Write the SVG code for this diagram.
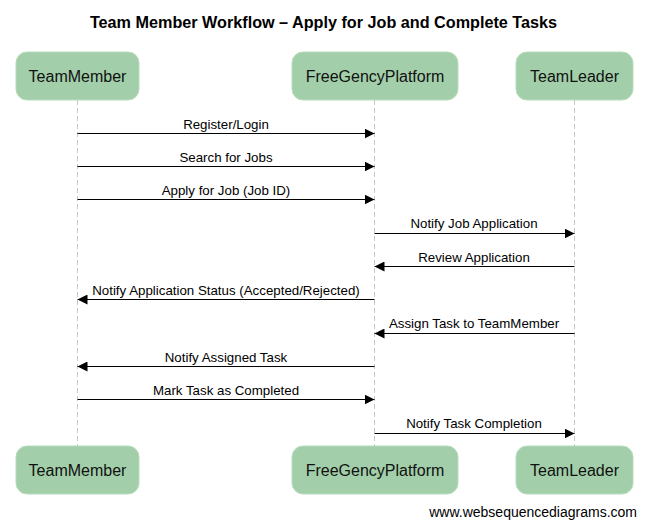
<svg xmlns="http://www.w3.org/2000/svg" width="647" height="527" viewBox="0 0 647 527">
<style>
.box{fill:#a2cfa9;stroke:#b8dcbd;stroke-width:1}
.bt{font-family:"Liberation Sans",Arial,sans-serif;font-size:16px;fill:#111;text-anchor:middle}
.life{stroke:#c8c8c8;stroke-width:1;stroke-dasharray:5,3}
.msg{stroke:#000;stroke-width:1;fill:none}
.ml{font-family:"Liberation Sans",Arial,sans-serif;font-size:13.3px;fill:#000;text-anchor:middle}
</style>
<defs>
<marker id="ah" viewBox="0 0 10 10" refX="10" refY="5" markerWidth="10" markerHeight="10" markerUnits="userSpaceOnUse" orient="auto">
<path d="M0,0 L10,5 L0,10 Z" fill="#000"/>
</marker>
</defs>
<rect width="647" height="527" fill="#fff"/>
<text x="323.5" y="28" font-family="'Liberation Sans',Arial,sans-serif" font-size="16.2" font-weight="bold" text-anchor="middle" fill="#000">Team Member Workflow – Apply for Job and Complete Tasks</text>
<g id="lifelines">
<line class="life" x1="77.5" y1="100" x2="77.5" y2="446"/>
<line class="life" x1="374.5" y1="100" x2="374.5" y2="446"/>
<line class="life" x1="574.5" y1="100" x2="574.5" y2="446"/>
</g>
<g id="TeamMember">
<rect class="box" x="16" y="52" width="123" height="48" rx="11"/>
<text class="bt" x="77.5" y="82">TeamMember</text>
<rect class="box" x="16" y="446" width="123" height="48" rx="11"/>
<text class="bt" x="77.5" y="476">TeamMember</text>
</g>
<g id="FreeGencyPlatform">
<rect class="box" x="292" y="52" width="166" height="48" rx="11"/>
<text class="bt" x="375" y="82">FreeGencyPlatform</text>
<rect class="box" x="292" y="446" width="166" height="48" rx="11"/>
<text class="bt" x="375" y="476">FreeGencyPlatform</text>
</g>
<g id="TeamLeader">
<rect class="box" x="516" y="52" width="117" height="48" rx="11"/>
<text class="bt" x="574.5" y="82">TeamLeader</text>
<rect class="box" x="516" y="446" width="117" height="48" rx="11"/>
<text class="bt" x="574.5" y="476">TeamLeader</text>
</g>
<g id="connectors">
<line class="msg" x1="77.5" y1="133.5" x2="374.5" y2="133.5" marker-end="url(#ah)"/>
<text class="ml" x="226" y="129">Register/Login</text>
<line class="msg" x1="77.5" y1="166.5" x2="374.5" y2="166.5" marker-end="url(#ah)"/>
<text class="ml" x="226" y="162">Search for Jobs</text>
<line class="msg" x1="77.5" y1="199.5" x2="374.5" y2="199.5" marker-end="url(#ah)"/>
<text class="ml" x="226" y="195">Apply for Job (Job ID)</text>
<line class="msg" x1="374.5" y1="233.5" x2="574.5" y2="233.5" marker-end="url(#ah)"/>
<text class="ml" x="474" y="228">Notify Job Application</text>
<line class="msg" x1="574.5" y1="266.5" x2="374.5" y2="266.5" marker-end="url(#ah)"/>
<text class="ml" x="474" y="262">Review Application</text>
<line class="msg" x1="374.5" y1="299.5" x2="77.5" y2="299.5" marker-end="url(#ah)"/>
<text class="ml" x="226" y="295">Notify Application Status (Accepted/Rejected)</text>
<line class="msg" x1="574.5" y1="333.5" x2="374.5" y2="333.5" marker-end="url(#ah)"/>
<text class="ml" x="474" y="328">Assign Task to TeamMember</text>
<line class="msg" x1="374.5" y1="366.5" x2="77.5" y2="366.5" marker-end="url(#ah)"/>
<text class="ml" x="226" y="362">Notify Assigned Task</text>
<line class="msg" x1="77.5" y1="399.5" x2="374.5" y2="399.5" marker-end="url(#ah)"/>
<text class="ml" x="226" y="395">Mark Task as Completed</text>
<line class="msg" x1="374.5" y1="433.5" x2="574.5" y2="433.5" marker-end="url(#ah)"/>
<text class="ml" x="474" y="428">Notify Task Completion</text>
</g>
<text x="637" y="517" font-family="'Liberation Sans',Arial,sans-serif" font-size="14" text-anchor="end" fill="#000">www.websequencediagrams.com</text>
</svg>
